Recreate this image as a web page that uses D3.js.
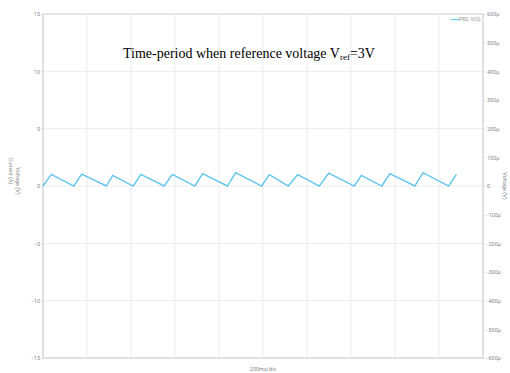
<!DOCTYPE html>
<html><head><meta charset="utf-8">
<script src="https://cdn.jsdelivr.net/npm/d3@7"></script>
<style>body{margin:0;background:#fff}svg{display:block}</style>
</head><body>
<svg id="c" width="510" height="373"></svg>
<script>
// Data: time in ms, voltage in V
const timeMs = [0, 38, 140, 176, 288, 317, 410, 445, 551, 588, 690, 726, 838, 876, 994, 1029, 1115, 1158, 1256, 1299, 1415, 1447, 1540, 1577, 1690, 1727, 1844, 1879];
const voltage = [0, 1.02, 0, 1.03, 0, 0.93, 0, 1.02, 0, 1.02, 0, 1.07, 0, 1.16, 0, 0.99, 0, 0.99, 0, 1.13, 0, 0.93, 0, 1.07, 0, 1.16, 0, 1.02];
const leftTicks = [15, 10, 5, 0, -5, -10, -15];
const rightTicks = [600, 500, 400, 300, 200, 100, 0, -100, -200, -300, -400, -500, -600];
const rightTickLabels = rightTicks.map(v => v === 0 ? "0" : v + "\u00b5");
const xTicks = [0, 200, 400, 600, 800, 1000, 1200, 1400, 1600, 1800, 2000];
const seriesName = "PR2: V(O)";

const svg = d3.select("#c");
const L = 43, R = 483, T = 14, B = 358;
const x = d3.scaleLinear().domain([0, 2000]).range([L, R]);
const y = d3.scaleLinear().domain([-15, 15]).range([B, T]);
const y2 = d3.scaleLinear().domain([-600, 600]).range([B, T]);
const grid = "#ececec", axisCol = "#d8d8d8", txt = "#8a8a8a";

// vertical grid
svg.append("g").selectAll("line").data(xTicks).join("line")
  .attr("x1", d => x(d)).attr("x2", d => x(d)).attr("y1", T).attr("y2", B)
  .attr("stroke", grid).attr("stroke-width", 1);
// horizontal grid
svg.append("g").selectAll("line").data(leftTicks).join("line")
  .attr("x1", L).attr("x2", R).attr("y1", d => y(d)).attr("y2", d => y(d))
  .attr("stroke", grid).attr("stroke-width", 1);

// frame axes
svg.append("line").attr("x1", L).attr("x2", L).attr("y1", T).attr("y2", B).attr("stroke", axisCol).attr("stroke-width", 1.5);
svg.append("line").attr("x1", R).attr("x2", R).attr("y1", T).attr("y2", B).attr("stroke", axisCol).attr("stroke-width", 1.5);
svg.append("line").attr("x1", L).attr("x2", R).attr("y1", B).attr("y2", B).attr("stroke", axisCol).attr("stroke-width", 1.5);
svg.append("line").attr("x1", L).attr("x2", R).attr("y1", T).attr("y2", T).attr("stroke", axisCol).attr("stroke-width", 1);

// left axis
const la = svg.append("g").attr("transform", `translate(${L},0)`)
  .call(d3.axisLeft(y).tickValues(leftTicks).tickSize(2).tickFormat(d3.format("d")));
la.select(".domain").remove();
la.selectAll("line").attr("stroke", axisCol);
la.selectAll("text").attr("fill", txt).attr("font-size", 5.5).attr("font-family", "Roboto, sans-serif").attr("x", -3);

// right axis
const ra = svg.append("g").attr("transform", `translate(${R},0)`)
  .call(d3.axisRight(y2).tickValues(rightTicks).tickSize(2).tickFormat((d, i) => rightTickLabels[i]));
ra.select(".domain").remove();
ra.selectAll("line").attr("stroke", axisCol);
ra.selectAll("text").attr("fill", txt).attr("font-size", 5.5).attr("font-family", "Roboto, sans-serif").attr("x", 4);

// axis labels
svg.append("text").attr("transform", "translate(9,171) rotate(90)").attr("text-anchor", "middle")
  .attr("fill", txt).attr("font-size", 5.5).attr("font-family", "Roboto, sans-serif").text("Current (A)");
svg.append("text").attr("transform", "translate(16,181) rotate(90)").attr("text-anchor", "middle")
  .attr("fill", txt).attr("font-size", 5.5).attr("font-family", "Roboto, sans-serif").text("Voltage (V)");
svg.append("text").attr("transform", "translate(503,186) rotate(90)").attr("text-anchor", "middle")
  .attr("fill", txt).attr("font-size", 5.5).attr("font-family", "Roboto, sans-serif").text("Voltage (V)");
svg.append("text").attr("x", (L + R) / 2).attr("y", 371).attr("text-anchor", "middle")
  .attr("fill", txt).attr("font-size", 5.5).attr("font-family", "Roboto, sans-serif").text("200ms/div");

// waveform
const pts = timeMs.map((t, i) => [t, voltage[i]]);
svg.append("path").datum(pts)
  .attr("d", d3.line().x(d => x(d[0])).y(d => y(d[1])))
  .attr("fill", "none").attr("stroke", "#62c5ee").attr("stroke-width", 1.4).attr("stroke-linejoin", "miter");

// legend
svg.append("line").attr("x1", 451).attr("x2", 459).attr("y1", 19.5).attr("y2", 19.5).attr("stroke", "#62c5ee").attr("stroke-width", 1.2);
svg.append("text").attr("x", 459).attr("y", 21).attr("fill", txt).attr("font-size", 5).attr("font-family", "Roboto, sans-serif").text(seriesName);

// title
svg.append("text").attr("x", 123).attr("y", 58).attr("fill", "#000")
  .attr("font-family", "'Liberation Serif', 'Times New Roman', serif").attr("font-size", 14)
  .call(t => {
    t.append("tspan").text("Time-period when reference voltage V");
    t.append("tspan").attr("font-size", 9).attr("dy", 2).text("ref");
    t.append("tspan").attr("dy", -2).text("=3V");
  });
</script>
</body></html>
